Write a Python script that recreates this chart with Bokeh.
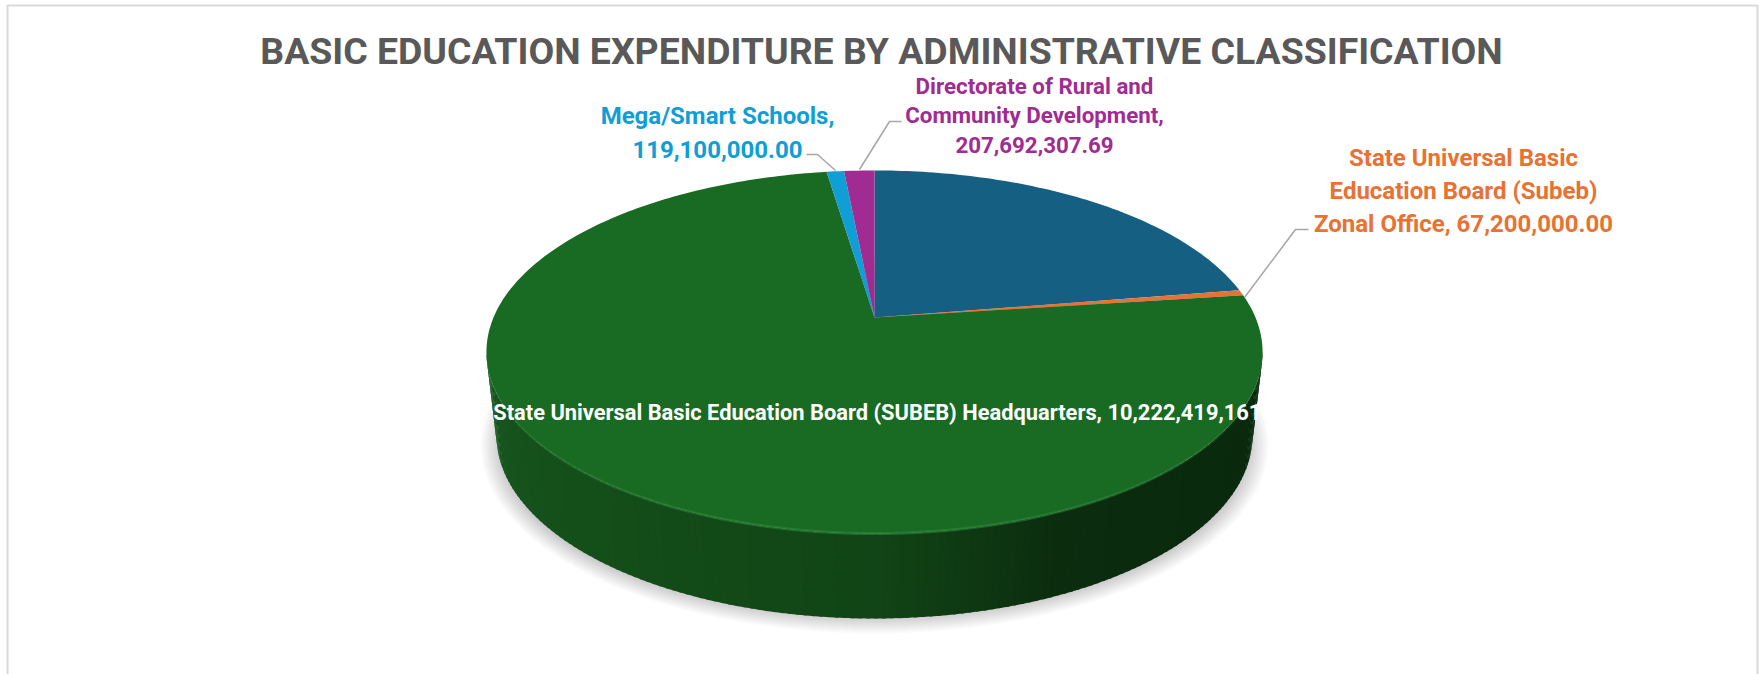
from math import sin, cos, pi, sqrt
from bokeh.plotting import figure
from bokeh.embed import file_html
from bokeh.resources import INLINE
from bokeh.models import Range1d
from bokeh.core.properties import value

TITLE = "BASIC EDUCATION EXPENDITURE BY ADMINISTRATIVE CLASSIFICATION"
CATEGORIES = ["Local Government Education Authority",
              "State Universal Basic Education Board (Subeb) Zonal Office",
              "State Universal Basic Education Board (SUBEB) Headquarters",
              "Mega/Smart Schools",
              "Directorate of Rural and Community Development"]
VALUES = [3070000000.0, 67200000.0, 10222419161.0, 119100000.0, 207692307.69]
COLORS = ["#156082", "#E97132", "#196B24", "#0F9ED5", "#A02B93"]
LABEL_LINES = [
    (["State Universal Basic", "Education Board (Subeb)", "Zonal Office, 67,200,000.00"], "#E97132", 1463, 157, 33, 24),
    (["State Universal Basic Education Board (SUBEB) Headquarters, 10,222,419,161."], "#FFFFFF", 880, 412, 0, 21.85),
    (["Mega/Smart Schools,", "119,100,000.00"], "#0F9ED5", 717, 115, 33.5, 24),
    (["Directorate of Rural and", "Community Development,", "207,692,307.69"], "#A02B93", 1034, 85, 29.5, 22.3),
]
LEADERS = [
    ([1244, 1295, 1308], [297, 229, 229]),
    ([835, 817, 806], [170, 154, 154]),
    ([859, 889, 901], [169, 121, 121]),
]

W, H = 1759, 674
CX, CY = 874, 317
A, B, C = 175.0, 0.19, 381.0
DEPTH_CY, DEPTH_RX, DEPTH_RY = 435, 378, 183


def project(theta):
    u, v = sin(theta), cos(theta)
    d = 1 + B * v
    return CX + C * u / d, CY - A * v / d


p = figure(width=W, height=H, output_backend="svg", toolbar_location=None,
           x_range=Range1d(0, W), y_range=Range1d(H, 0), min_border=0,
           x_axis_type=None, y_axis_type=None, outline_line_color=None,
           background_fill_color="#FFFFFF", border_fill_color="#FFFFFF")
p.grid.visible = False

p.line([7, 7, 1757, 1757], [H, 5, 5, H], line_color="#D9D9D9", line_width=2)


def ell(cx, cy, rx, ry, n=240):
    return ([cx + rx * cos(2 * pi * i / n) for i in range(n)],
            [cy + ry * sin(2 * pi * i / n) for i in range(n)])


# soft shadow
for k in range(14):
    xs, ys = ell(874, 445, 394 - k * 1.6, 188 - k * 1.3)
    p.patch(xs, ys, fill_color="#000000", fill_alpha=0.014, line_color=None)

# side wall, strip by strip
TOP_RX = 388.0
TOP_CY, TOP_RY = 352.0, 181.0
side_stops = [(0.0, (26, 98, 36)), (0.06, (22, 84, 30)), (0.3, (19, 76, 24)), (0.5, (17, 68, 22)),
              (0.66, (11, 44, 14)), (1.0, (9, 40, 12))]


def side_color(t):
    for (a, ca), (b, cb) in zip(side_stops, side_stops[1:]):
        if t <= b:
            f = (t - a) / (b - a)
            return "#%02x%02x%02x" % tuple(round(x + (y - x) * f) for x, y in zip(ca, cb))
    return "#%02x%02x%02x" % side_stops[-1][1]


N = 150
for i in range(N):
    a0 = pi - pi * i / N
    a1 = pi - pi * (i + 1.4) / N
    xs = [874 + TOP_RX * cos(a0), 874 + TOP_RX * cos(a1), 874 + DEPTH_RX * cos(a1), 874 + DEPTH_RX * cos(a0)]
    ys = [TOP_CY + TOP_RY * sin(a0), TOP_CY + TOP_RY * sin(a1), DEPTH_CY + DEPTH_RY * sin(a1), DEPTH_CY + DEPTH_RY * sin(a0)]
    p.patch(xs, ys, fill_color=side_color(i / N), line_color=None)

# top face
total = sum(VALUES)
start = 0.0
for val, col in zip(VALUES, COLORS):
    sweep = val / total * 2 * pi
    n = max(4, int(sweep * 60))
    pts = [project(start + sweep * j / n) for j in range(n + 1)]
    p.patch([CX] + [q[0] for q in pts], [CY] + [q[1] for q in pts], fill_color=col, line_color=None)
    start += sweep

# bevel highlight on the front rim
M = 90
for i in range(M):
    a0 = pi * 0.04 + pi * 0.92 * i / M
    a1 = pi * 0.04 + pi * 0.92 * (i + 1) / M
    s = sin((a0 + a1) / 2)
    alpha = max(0.0, s) ** 1.5 * 0.6
    p.line([874 + TOP_RX * cos(a0), 874 + TOP_RX * cos(a1)],
           [TOP_CY + TOP_RY * sin(a0), TOP_CY + TOP_RY * sin(a1)],
           line_color="#2F8A3C", line_width=3, line_alpha=alpha)

# leaders
for lx, ly in LEADERS:
    p.line(lx, ly, line_color="#A6A6A6", line_width=1.5)

# text
FONT = "Roboto"
p.text([881], [50], text=[TITLE], text_font=value(FONT), text_font_style="bold",
       text_font_size="37.4px", text_color="#595959", text_align="center", text_baseline="middle")
for lines, col, x, y, step, size in LABEL_LINES:
    for i, t in enumerate(lines):
        p.text([x], [y + i * step], text=[t], text_font=value(FONT), text_font_style="bold",
               text_font_size=f"{size}px", text_color=col, text_align="center", text_baseline="middle")

open("out.html", "w").write(file_html(p, INLINE))
